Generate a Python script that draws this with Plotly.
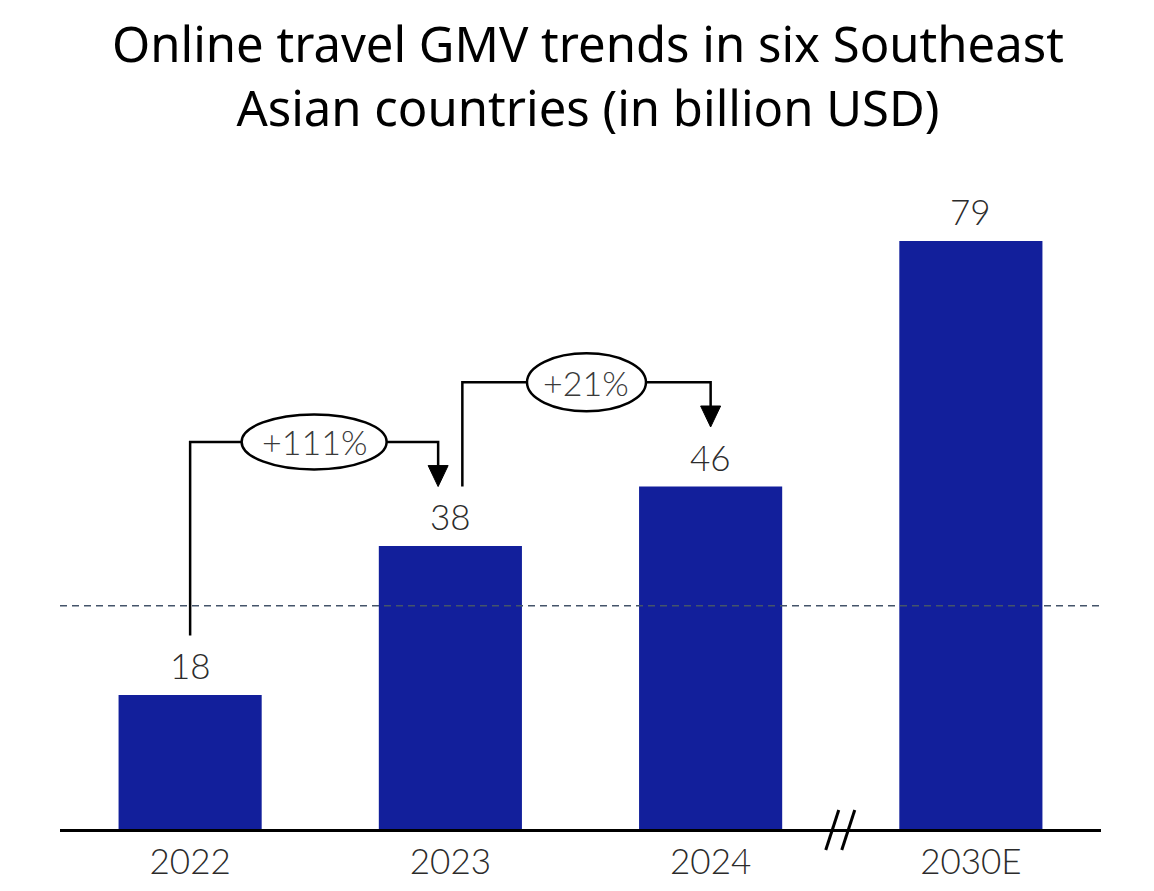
import plotly.graph_objects as go

# ---- data ----
categories = ["2022", "2023", "2024", "2030E"]
values = [18, 38, 46, 79]
growth_labels = ["+111%", "+21%"]
reference_value = 30
title_lines = ["Online travel GMV trends in six Southeast", "Asian countries (in billion USD)"]

BAR_COLOR = "#121F9B"
TEXT_COLOR = "#2b2b2b"
NUM_FONT = dict(family="Lato", size=35, color=TEXT_COLOR, weight=300)

xs = list(range(len(categories)))
XR = [-0.5, 3.5]
YR = [0, 90]
M = dict(l=52, r=61, t=151, b=70)
H = 891
plot_h = H - M["t"] - M["b"]

fig = go.Figure()
fig.add_trace(go.Bar(x=xs, y=values, width=0.55, marker=dict(color=BAR_COLOR, line=dict(width=0)),
                     hoverinfo="skip"))

# value labels
for x, v in zip(xs, values):
    fig.add_annotation(x=x, y=v, text=str(v), showarrow=False, yanchor="bottom",
                       yshift=7, font=NUM_FONT)

shapes = []
# reference dashed line
shapes.append(dict(type="line", xref="paper", x0=0, x1=1, yref="y", y0=reference_value, y1=reference_value,
                   line=dict(color="#44546A", width=1.5, dash="7px,5px")))

# growth connectors
PAD = 8      # gap above bar value where connectors start/end
RISE = 14    # horizontal segment height above target value
LW = 2.5
connectors = [
    dict(x_start=xs[0], x_end=xs[1] - 0.047, v_start=values[0], v_end=values[1], w=145, h=55, label=growth_labels[0]),
    dict(x_start=xs[1] + 0.046, x_end=xs[2], v_start=values[1], v_end=values[2], w=119, h=58, label=growth_labels[1]),
]
ARROW_W, ARROW_H = 20, 21
for c in connectors:
    y0 = c["v_start"] + PAD
    ytop = c["v_end"] + RISE
    ytip = c["v_end"] + PAD
    shapes.append(dict(type="path", xref="x", yref="y",
                       path=f"M {c['x_start']},{y0} L {c['x_start']},{ytop} L {c['x_end']},{ytop} L {c['x_end']},{ytip + 2.5}",
                       line=dict(color="black", width=LW)))
    shapes.append(dict(type="path", xref="x", yref="y", xsizemode="pixel", ysizemode="pixel",
                       xanchor=c["x_end"], yanchor=ytip,
                       path=f"M 0,0 L {-ARROW_W/2},{ARROW_H} L {ARROW_W/2},{ARROW_H} Z",
                       fillcolor="black", line=dict(color="black", width=1)))
    xm = (c["x_start"] + c["x_end"]) / 2
    shapes.append(dict(type="circle", xref="x", yref="y", xsizemode="pixel", ysizemode="pixel",
                       xanchor=xm, yanchor=ytop,
                       x0=-c["w"]/2, x1=c["w"]/2, y0=-c["h"]/2, y1=c["h"]/2,
                       fillcolor="white", line=dict(color="black", width=LW), layer="above"))
    fig.add_annotation(x=xm, y=ytop, text=c["label"], showarrow=False,
                       font=dict(family="Lato", size=34, color="#3a3a3a", weight=300))

# axis break marks between 2024 and 2030E (paper-referenced so they are not clipped)
xb = (xs[2] + xs[3]) / 2
xb_paper = (xb - XR[0]) / (XR[1] - XR[0])
for dx in (0, 16):
    shapes.append(dict(type="line", xref="paper", yref="paper", xsizemode="pixel", ysizemode="pixel",
                       xanchor=xb_paper, yanchor=0, x0=-15 + dx, y0=-21, x1=-2 + dx, y1=19,
                       line=dict(color="black", width=3)))

# title (two centered lines)
TITLE_TOP = 0
fig.add_annotation(xref="paper", yref="paper", x=0.507, y=1 + (M["t"] - TITLE_TOP) / plot_h,
                   xanchor="center", yanchor="top", align="center",
                   text="<br>".join(title_lines), showarrow=False,
                   font=dict(family="Noto Sans", size=49, color="black"))

fig.update_layout(
    width=1154, height=H,
    margin=M,
    paper_bgcolor="white", plot_bgcolor="white",
    showlegend=False,
    shapes=shapes,
    xaxis=dict(tickmode="array", tickvals=xs, ticktext=categories, range=XR,
               showline=True, linecolor="black", linewidth=2.5, showgrid=False, zeroline=False,
               ticks="", tickfont=NUM_FONT, fixedrange=True),
    yaxis=dict(range=YR, visible=False, showgrid=False, zeroline=False, fixedrange=True),
)

fig.write_html("out.html")
